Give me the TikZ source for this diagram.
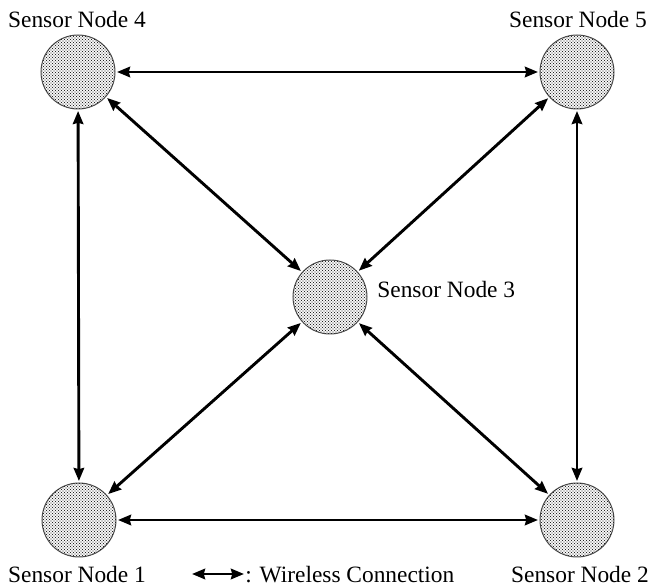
\documentclass[tikz,border=0pt]{standalone}
\usepackage{fontspec}
\setmainfont{Liberation Serif}
\usetikzlibrary{arrows.meta,patterns}
\pgfdeclarepatternformonly{finedots}{\pgfqpoint{-0.6pt}{-0.6pt}}{\pgfqpoint{2.1pt}{2.1pt}}{\pgfqpoint{1.5pt}{1.5pt}}{%
  \pgfpathcircle{\pgfqpoint{0pt}{0pt}}{0.36pt}\pgfusepath{fill}%
  \pgfpathcircle{\pgfqpoint{0.75pt}{0.75pt}}{0.36pt}\pgfusepath{fill}}
\begin{document}
\begin{tikzpicture}[x=0.5pt,y=-0.5pt,
  sensor/.style={circle,minimum size=37pt,inner sep=0pt,outer sep=1pt,draw=black!70,line width=0.5pt,
    fill=white,postaction={pattern=finedots,pattern color=black!85}},
  link/.style={{Stealth[length=6.5pt,width=5.2pt,inset=0.6pt]}-{Stealth[length=6.5pt,width=5.2pt,inset=0.6pt]},line width=1.45pt},
  lbl/.style={font=\fontsize{11.7}{14}\selectfont,inner sep=0pt}]
\useasboundingbox (0,0) rectangle (650,587);
\node[sensor] (n4) at (78,72) {};
\node[sensor] (n5) at (577,72) {};
\node[sensor] (n3) at (330,297) {};
\node[sensor] (n1) at (79,520) {};
\node[sensor] (n2) at (577,520) {};
\node[lbl,anchor=base] (l4) at (77,28) {Sensor Node 4};
\node[lbl,anchor=base] (l5) at (578,28) {Sensor Node 5};
\node[lbl,anchor=base west] (l3) at (377,298) {Sensor Node 3};
\node[lbl,anchor=base] (l1) at (77,583) {Sensor Node 1};
\node[lbl,anchor=base] (l2) at (580,583) {Sensor Node 2};
\draw[link] (n4) -- (n5);
\draw[link] (n4) -- (n1);
\draw[link] (n5) -- (n2);
\draw[link] (n1) -- (n2);
\draw[link] (n4) -- (n3);
\draw[link] (n5) -- (n3);
\draw[link] (n1) -- (n3);
\draw[link] (n2) -- (n3);
\coordinate (la) at (192,574);
\coordinate (lb) at (244,574);
\draw[link] (la) -- (lb);
\node[lbl,anchor=base west] (lt) at (245,583) {: Wireless Connection};
\end{tikzpicture}
\end{document}
